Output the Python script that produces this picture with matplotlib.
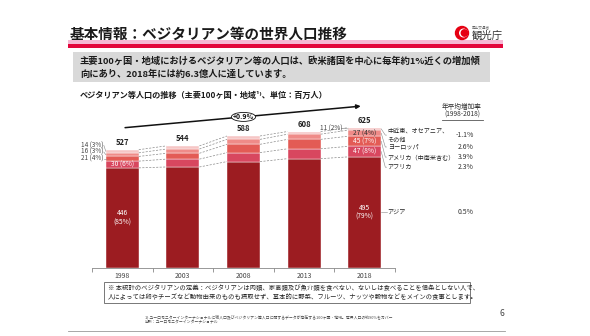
import matplotlib
matplotlib.use('Agg')
import matplotlib.pyplot as plt
from matplotlib.patches import Rectangle, Ellipse, Circle

plt.rcParams['font.family'] = ['Noto Sans CJK JP', 'DejaVu Sans']

# donnees (millions de personnes), du bas vers le haut de chaque barre
years = ['1998', '2003', '2008', '2013', '2018']
asia = [446, 450, 474, 487, 495]
africa = [30, 35, 40, 44, 47]
america = [21, 26, 37, 42, 45]
europe = [16, 19, 22, 23, 27]
mideast = [14, 14, 15, 12, 11]
totals = [527, 544, 588, 608, 625]

region_names = ['アジア', 'アフリカ', 'アメリカ（中南米含む）', 'ヨーロッパ', '中近東、オセアニア、\nその他']
growth = ['0.5%', '2.3%', '3.9%', '2.6%', '-1.1%']
colors = ['#9c1c21', '#d8475f', '#e35b55', '#ef8b88', '#f6c6c5']
total_growth = '+0.9%'

W, H = 590, 336
fig = plt.figure(figsize=(W / 100, H / 100), dpi=100)

# calque en pixels pour la mise en page de la diapositive
bg = fig.add_axes([0, 0, 1, 1])
bg.set_xlim(0, W)
bg.set_ylim(H, 0)
bg.axis('off')

bg.text(70, 34, '基本情報：ベジタリアン等の世界人口推移', fontsize=10.5, fontweight='bold',
        va='center', color='#1a1a1a')
bg.add_patch(Rectangle((68, 40), 435, 3.5, color='#f6b8d4', lw=0))
bg.add_patch(Rectangle((68, 43.5), 435, 4, color='#e3063c', lw=0))

# logo
bg.add_patch(Circle((462, 33), 6.5, color='#e60012'))
bg.add_patch(Circle((463.5, 33), 3.8, color='white'))
bg.add_patch(Circle((464.5, 33), 3.2, color='#e60012'))
bg.text(472, 27.5, '国土交通省', fontsize=2.6, color='#666', va='center')
bg.text(472, 36, '観光庁', fontsize=7.5, color='#333', va='center')

bg.add_patch(Rectangle((73, 52), 417, 30, color='#d9d9d9', lw=0))
bg.text(80, 61, '主要100ヶ国・地域におけるベジタリアン等の人口は、欧米諸国を中心に毎年約1%近くの増加傾',
        fontsize=6.7, fontweight='bold', va='center', color='#1a1a1a')
bg.text(80, 74, '向にあり、2018年には約6.3億人に達しています。',
        fontsize=6.7, fontweight='bold', va='center', color='#1a1a1a')

bg.text(80, 95, 'ベジタリアン等人口の推移（主要100ヶ国・地域¹⁾、単位：百万人）',
        fontsize=5.9, fontweight='bold', va='center', color='#1a1a1a')

# en-tete colonne de droite
bg.text(462, 107, '年平均増加率', fontsize=4.8, ha='center', va='center', color='#333')
bg.text(462, 115, '(1998-2018)', fontsize=4.8, ha='center', va='center', color='#333')
bg.plot([442, 483], [119.5, 119.5], color='#555', lw=0.6)

# encadre de note
bg.add_patch(Rectangle((104, 282), 366, 21, fill=False, ec='#777', lw=0.7))
bg.text(108, 288, '※ 本統計のベジタリアンの定義：ベジタリアンは肉類、家禽類及び魚介類を食べない、ないしは食べることを信条としない人で、',
        fontsize=4.55, va='center', color='#222')
bg.text(108, 297, '人によっては卵やチーズなど動物由来のものも摂取せず、基本的に野菜、フルーツ、ナッツや穀物などをメインの食事とします。',
        fontsize=4.55, va='center', color='#222')

bg.text(145, 317, '1) ユーロモニターインターナショナルに総人口及びベジタリアン等人口に関するデータが存在する100ヶ国・地域。世界人口の約90%をカバー',
        fontsize=2.8, va='center', color='#444')
bg.text(145, 322, '出所：ユーロモニターインターナショナル', fontsize=2.8, va='center', color='#444')
bg.text(499, 313, '6', fontsize=6, va='center', color='#444')
bg.plot([68, 505], [331, 331], color='#999', lw=0.6)

# ===================== graphique =====================
px_per_unit = 0.2245
ax_h = 170
ax = fig.add_axes([92 / W, (H - 268) / H, 303 / W, ax_h / H])
ax.patch.set_visible(False)
ax.set_xlim(-0.5, 4.5)
ax.set_ylim(0, ax_h / px_per_unit)

series = [asia, africa, america, europe, mideast]
x = list(range(len(years)))
bw = 0.545
bottoms = [0] * len(years)
levels = []
for vals, c in zip(series, colors):
    ax.bar(x, vals, bottom=bottoms, width=bw, color=c, edgecolor='white', linewidth=0.3)
    bottoms = [b + v for b, v in zip(bottoms, vals)]
    levels.append(list(bottoms))

# lignes pointillees entre barres
for lev in levels:
    for i in range(len(years) - 1):
        ax.plot([i + bw / 2, i + 1 - bw / 2], [lev[i], lev[i + 1]],
                ls=(0, (3, 2)), color='#8a8a8a', lw=0.5)

for i, t in enumerate(totals):
    ax.text(i, t + 12, str(t), ha='center', va='bottom', fontsize=5.5,
            fontweight='bold', color='#222')


def pct(v, t):
    return '%d (%d%%)' % (v, round(100 * v / t))


# etiquettes internes
for i in [0, 4]:
    t = totals[i]
    ax.text(i, asia[i] / 2, '%d\n(%d%%)' % (asia[i], round(100 * asia[i] / t)),
            ha='center', va='center', fontsize=4.8, color='white', linespacing=1.2)
    ax.text(i, asia[i] + africa[i] / 2, pct(africa[i], t), ha='center', va='center',
            fontsize=4.8, color='white')
ax.text(4, levels[1][4] + america[4] / 2, pct(america[4], totals[4]), ha='center',
        va='center', fontsize=4.8, color='white')
ax.text(4, levels[2][4] + europe[4] / 2, pct(europe[4], totals[4]), ha='center',
        va='center', fontsize=4.8, color='#333')

# etiquettes a gauche de 1998
prev = None
for k in [2, 3, 4]:
    mid = levels[k][0] - series[k][0] / 2
    y = mid if prev is None else max(mid, prev + 30)
    prev = y
    ax.text(-0.31, y, pct(series[k][0], totals[0]), ha='right', va='center',
            fontsize=4.6, color='#444')
    ax.plot([-0.305, -bw / 2], [y, mid], color='#888', lw=0.4)

# etiquette 11 (2%) pour 2018
mid = levels[4][4] - mideast[4] / 2
ax.text(3.64, mid + 2, pct(mideast[4], totals[4]), ha='right', va='center',
        fontsize=4.6, color='#444')
ax.plot([3.645, 4 - bw / 2], [mid + 2, mid], color='#888', lw=0.4)

# legende a droite
lx = 4.38
gaps = {3: 53, 2: 45, 1: 45, 0: 45}
prev = None
for k in [4, 3, 2, 1, 0]:
    mid = levels[k][4] - series[k][4] / 2
    if prev is None:
        y = totals[4] - 33
    else:
        y = min(mid, prev - gaps[k])
    prev = y
    ax.text(lx, y, region_names[k], ha='left', va='center', fontsize=4.4,
            color='#222', linespacing=1.15, clip_on=False)
    ax.text(5.8, y, growth[k], ha='right', va='center',
            fontsize=5, color='#333', clip_on=False)
    ax.plot([4 + bw / 2, 4.34, 4.36], [mid, y, y], color='#888', lw=0.4, clip_on=False)

# fleche de croissance
y0 = totals[0] + 97
y1 = totals[-1] + 97
ax.annotate('', xy=(3.98, y1), xytext=(0, y0),
            arrowprops=dict(arrowstyle='-|>', color='#111', lw=1.1, mutation_scale=6))
ax.add_patch(Ellipse((2, (y0 + y1) / 2), 0.4, 40, fc='white', ec='#111', lw=0.6, zorder=3))
ax.text(2, (y0 + y1) / 2, total_growth, ha='center', va='center', fontsize=5,
        fontweight='bold', color='#111', zorder=4)

# axe
for s in ['left', 'right', 'top']:
    ax.spines[s].set_visible(False)
ax.spines['bottom'].set_color('#888')
ax.spines['bottom'].set_linewidth(0.6)
ax.set_yticks([])
ax.set_xticks(x)
ax.set_xticklabels(years, fontsize=5, color='#444')
ax.tick_params(axis='x', which='major', length=0, pad=3)
ax.set_xticks([i - 0.5 for i in range(len(years) + 1)], minor=True)
ax.tick_params(axis='x', which='minor', length=3, color='#888', width=0.6)

fig.savefig('out.png', dpi=100)
